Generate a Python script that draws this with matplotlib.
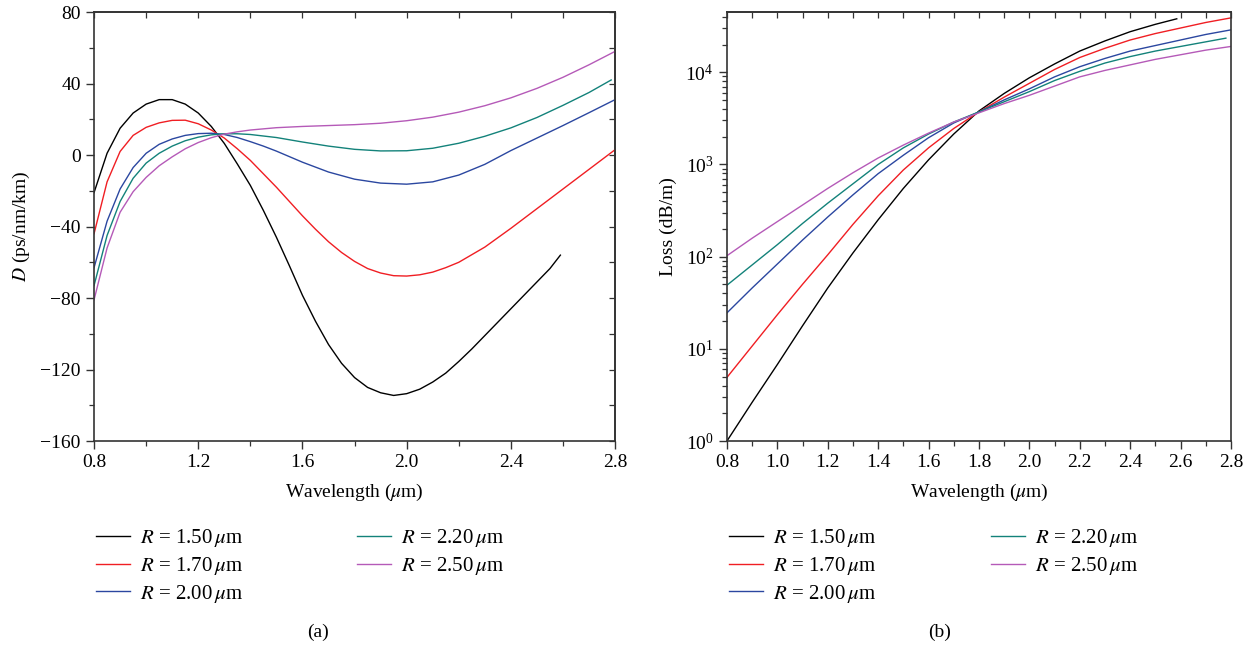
import matplotlib
matplotlib.use("Agg")
import matplotlib.pyplot as plt
import numpy as np
from matplotlib.ticker import MultipleLocator, LogLocator, NullFormatter

plt.rcParams['font.family'] = ['Liberation Serif', 'DejaVu Serif']
plt.rcParams['mathtext.fontset'] = 'stix'
plt.rcParams['axes.unicode_minus'] = True

# ---- data -------------------------------------------------------------
radii = ["1.50", "1.70", "2.00", "2.20", "2.50"]
colors = ["#000000", "#f01e23", "#2b47a0", "#13827a", "#b55ab8"]

# (a) dispersion D (ps/nm/km) vs wavelength (um)
lam_d_150 = [0.8, 0.85, 0.9, 0.95, 1.0, 1.05, 1.1, 1.15, 1.2, 1.25, 1.3, 1.35, 1.4, 1.45, 1.5,
             1.55, 1.6, 1.65, 1.7, 1.75, 1.8, 1.85, 1.9, 1.95, 2.0, 2.05, 2.1, 2.15, 2.2,
             2.25, 2.3, 2.35, 2.4, 2.45, 2.5, 2.55, 2.59]
d_150 = [-21, 1, 15, 23.5, 28.5, 31, 31, 28.5, 23.5, 16, 6.5, -5, -17, -31, -46,
         -62, -78.5, -93, -106, -116.5, -124.5, -130, -133, -134.5, -133.5, -131, -127, -122, -115.5,
         -108.5, -101, -93.5, -86, -78.5, -71, -63.5, -56]

lam_d_170 = [0.8, 0.85, 0.9, 0.95, 1.0, 1.05, 1.1, 1.15, 1.2, 1.25, 1.3, 1.35, 1.4, 1.45, 1.5,
             1.55, 1.6, 1.65, 1.7, 1.75, 1.8, 1.85, 1.9, 1.95, 2.0, 2.05, 2.1, 2.15, 2.2,
             2.3, 2.4, 2.5, 2.6, 2.7, 2.8]
d_170 = [-44, -15, 2, 11, 15.5, 18, 19.4, 19.5, 17.5, 14, 9.5, 3.5, -3, -10.5, -18,
         -26, -34, -41.5, -48.5, -54.5, -59.5, -63.5, -66, -67.5, -67.7, -67, -65.5, -63, -60,
         -51.5, -41, -30, -19, -8, 3]

lam_d_200 = [0.8, 0.85, 0.9, 0.95, 1.0, 1.05, 1.1, 1.15, 1.2, 1.25, 1.3, 1.35, 1.4, 1.45, 1.5,
             1.6, 1.7, 1.8, 1.9, 2.0, 2.1, 2.2, 2.3, 2.4, 2.5, 2.6, 2.7, 2.8]
d_200 = [-63, -37, -19, -7, 1, 6, 9, 11, 12, 12.2, 11.5, 9.8, 7.5, 5, 2.2,
         -4, -9.5, -13.5, -15.7, -16.3, -15, -11.2, -5.2, 2.5, 9.5, 16.5, 23.7, 31]

lam_d_220 = [0.8, 0.85, 0.9, 0.95, 1.0, 1.05, 1.1, 1.15, 1.2, 1.25, 1.3, 1.35, 1.4, 1.5,
             1.6, 1.7, 1.8, 1.9, 2.0, 2.1, 2.2, 2.3, 2.4, 2.5, 2.6, 2.7, 2.785]
d_220 = [-73, -45, -26, -13, -4.5, 1, 5, 8, 10, 11.3, 11.9, 11.9, 11.5, 9.8,
         7.3, 5, 3.2, 2.3, 2.4, 3.8, 6.6, 10.5, 15.2, 21, 27.8, 35, 42]

lam_d_250 = [0.8, 0.85, 0.9, 0.95, 1.0, 1.05, 1.1, 1.15, 1.2, 1.25, 1.3, 1.35, 1.4, 1.5,
             1.6, 1.7, 1.8, 1.9, 2.0, 2.1, 2.2, 2.3, 2.4, 2.5, 2.6, 2.7, 2.8]
d_250 = [-81, -52, -32, -20.5, -12.5, -6, -1, 3.5, 7, 9.7, 11.7, 13, 14, 15.3,
         16, 16.5, 17, 17.8, 19.2, 21.2, 24, 27.6, 32, 37.3, 43.5, 50.5, 58]

# (b) loss, stored as log10 of Loss (dB/m)
lam_l_150 = [0.8, 0.9, 1.0, 1.1, 1.2, 1.3, 1.4, 1.5, 1.6, 1.7, 1.8, 1.9, 2.0, 2.1, 2.2, 2.3, 2.4, 2.5, 2.585]
logl_150 = [0.0, 0.42, 0.83, 1.25, 1.66, 2.04, 2.40, 2.74, 3.05, 3.33, 3.58, 3.77, 3.94, 4.09, 4.23, 4.34, 4.44, 4.52, 4.58]

lam_l_full = [0.8, 0.9, 1.0, 1.1, 1.2, 1.3, 1.4, 1.5, 1.6, 1.7, 1.8, 1.9, 2.0, 2.1, 2.2, 2.3, 2.4, 2.5, 2.6, 2.7, 2.8]
logl_170 = [0.69, 1.03, 1.37, 1.70, 2.02, 2.35, 2.66, 2.94, 3.18, 3.39, 3.57, 3.73, 3.88, 4.03, 4.16, 4.26, 4.35, 4.42, 4.48, 4.54, 4.59]
logl_200 = [1.39, 1.66, 1.92, 2.18, 2.43, 2.67, 2.90, 3.10, 3.29, 3.45, 3.57, 3.70, 3.82, 3.95, 4.06, 4.15, 4.23, 4.29, 4.35, 4.41, 4.46]
logl_250 = [2.01, 2.20, 2.38, 2.56, 2.74, 2.91, 3.07, 3.21, 3.34, 3.46, 3.56, 3.66, 3.75, 3.85, 3.95, 4.02, 4.08, 4.14, 4.19, 4.24, 4.28]

lam_l_220 = [0.8, 0.9, 1.0, 1.1, 1.2, 1.3, 1.4, 1.5, 1.6, 1.7, 1.8, 1.9, 2.0, 2.1, 2.2, 2.3, 2.4, 2.5, 2.6, 2.7, 2.78]
logl_220 = [1.69, 1.91, 2.13, 2.36, 2.58, 2.79, 3.00, 3.18, 3.33, 3.46, 3.57, 3.68, 3.79, 3.91, 4.01, 4.10, 4.17, 4.23, 4.28, 4.33, 4.37]

d_series = [(lam_d_150, d_150), (lam_d_170, d_170), (lam_d_200, d_200),
            (lam_d_220, d_220), (lam_d_250, d_250)]
l_series = [(lam_l_150, logl_150), (lam_l_full, logl_170), (lam_l_full, logl_200),
            (lam_l_220, logl_220), (lam_l_full, logl_250)]

# ---- figure -----------------------------------------------------------
fig = plt.figure(figsize=(12.54, 6.48), dpi=100)
ax1 = fig.add_axes([0.075, 0.3194, 0.4155, 0.662])
ax2 = fig.add_axes([0.5797, 0.3194, 0.4019, 0.662])

spine_c = "#333333"
fs = 14

def labels(r):
    return r"$R$ = " + r + r"$\,\mu$m"

lines1 = []
for (x, y), c, r in zip(d_series, colors, radii):
    ln, = ax1.plot(x, y, color=c, lw=1.0, label=labels(r))
    lines1.append(ln)

lines2 = []
for (x, y), c, r in zip(l_series, colors, radii):
    ln, = ax2.plot(x, np.power(10.0, y), color=c, lw=1.0, label=labels(r))
    lines2.append(ln)

# left panel axes
ax1.set_xlim(0.8, 2.8)
ax1.set_ylim(-160, 80)
ax1.xaxis.set_major_locator(MultipleLocator(0.4))
ax1.xaxis.set_minor_locator(MultipleLocator(0.2))
ax1.yaxis.set_major_locator(MultipleLocator(40))
ax1.yaxis.set_minor_locator(MultipleLocator(20))
ax1.xaxis.set_major_formatter(plt.FuncFormatter(lambda v, p: f"{v:.1f}"))
ax1.yaxis.set_major_formatter(plt.FuncFormatter(lambda v, p: f"{v:.0f}".replace("-", "\u2212")))
ax1.set_xlabel(r"Wavelength ($\mu$m)", fontsize=fs, labelpad=8)
ax1.set_ylabel(r"$D$ (ps/nm/km)", fontsize=fs, labelpad=6)

top1 = ax1.secondary_xaxis('top')
top1.xaxis.set_major_locator(MultipleLocator(0.2))
top1.tick_params(direction='in', length=4, width=0.9, labeltop=False, color=spine_c)
right1 = ax1.secondary_yaxis('right')
right1.yaxis.set_major_locator(MultipleLocator(20))
right1.tick_params(direction='in', length=4, width=0.9, labelright=False, color=spine_c)

# right panel axes
ax2.set_yscale('log')
ax2.set_xlim(0.8, 2.8)
ax2.set_ylim(1, 4.5e4)
ax2.xaxis.set_major_locator(MultipleLocator(0.2))
ax2.xaxis.set_minor_locator(MultipleLocator(0.1))
ax2.xaxis.set_major_formatter(plt.FuncFormatter(lambda v, p: f"{v:.1f}"))
ax2.yaxis.set_major_locator(LogLocator(base=10, numticks=10))
ax2.yaxis.set_minor_locator(LogLocator(base=10, subs=np.arange(2, 10), numticks=20))
ax2.yaxis.set_minor_formatter(NullFormatter())
ax2.set_xlabel(r"Wavelength ($\mu$m)", fontsize=fs, labelpad=8)
ax2.set_ylabel("Loss (dB/m)", fontsize=fs, labelpad=6)

top2 = ax2.secondary_xaxis('top')
top2.xaxis.set_major_locator(MultipleLocator(0.1))
top2.tick_params(direction='in', length=4, width=0.9, labeltop=False, color=spine_c)

for ax in (ax1, ax2):
    ax.tick_params(which='major', direction='out', length=6, width=1.0, labelsize=fs, color=spine_c)
    ax.tick_params(which='minor', direction='out', length=3.5, width=0.9, color=spine_c)
    for s in ax.spines.values():
        s.set_color(spine_c)
        s.set_linewidth(1.2)
for sec in (top1, right1, top2):
    for s in sec.spines.values():
        s.set_color(spine_c)
        s.set_linewidth(1.2)

# legends (two columns each, placed below the axes)
leg_kw = dict(frameon=False, fontsize=15, handlelength=1.63, handletextpad=0.5,
              labelspacing=0.28, borderaxespad=0, borderpad=0, loc='upper left')
ytop = 1 - 527 / 648
fig.legend(handles=lines1[:3], bbox_to_anchor=(96 / 1254, ytop), **leg_kw)
fig.legend(handles=lines1[3:], bbox_to_anchor=(357 / 1254, ytop), **leg_kw)
fig.legend(handles=lines2[:3], bbox_to_anchor=(729 / 1254, ytop), **leg_kw)
fig.legend(handles=lines2[3:], bbox_to_anchor=(991 / 1254, ytop), **leg_kw)

fig.text(318 / 1254, 1 - 632 / 648, "(a)", ha='center', va='center', fontsize=fs)
fig.text(940 / 1254, 1 - 632 / 648, "(b)", ha='center', va='center', fontsize=fs)

fig.savefig("out.png", dpi=100)
